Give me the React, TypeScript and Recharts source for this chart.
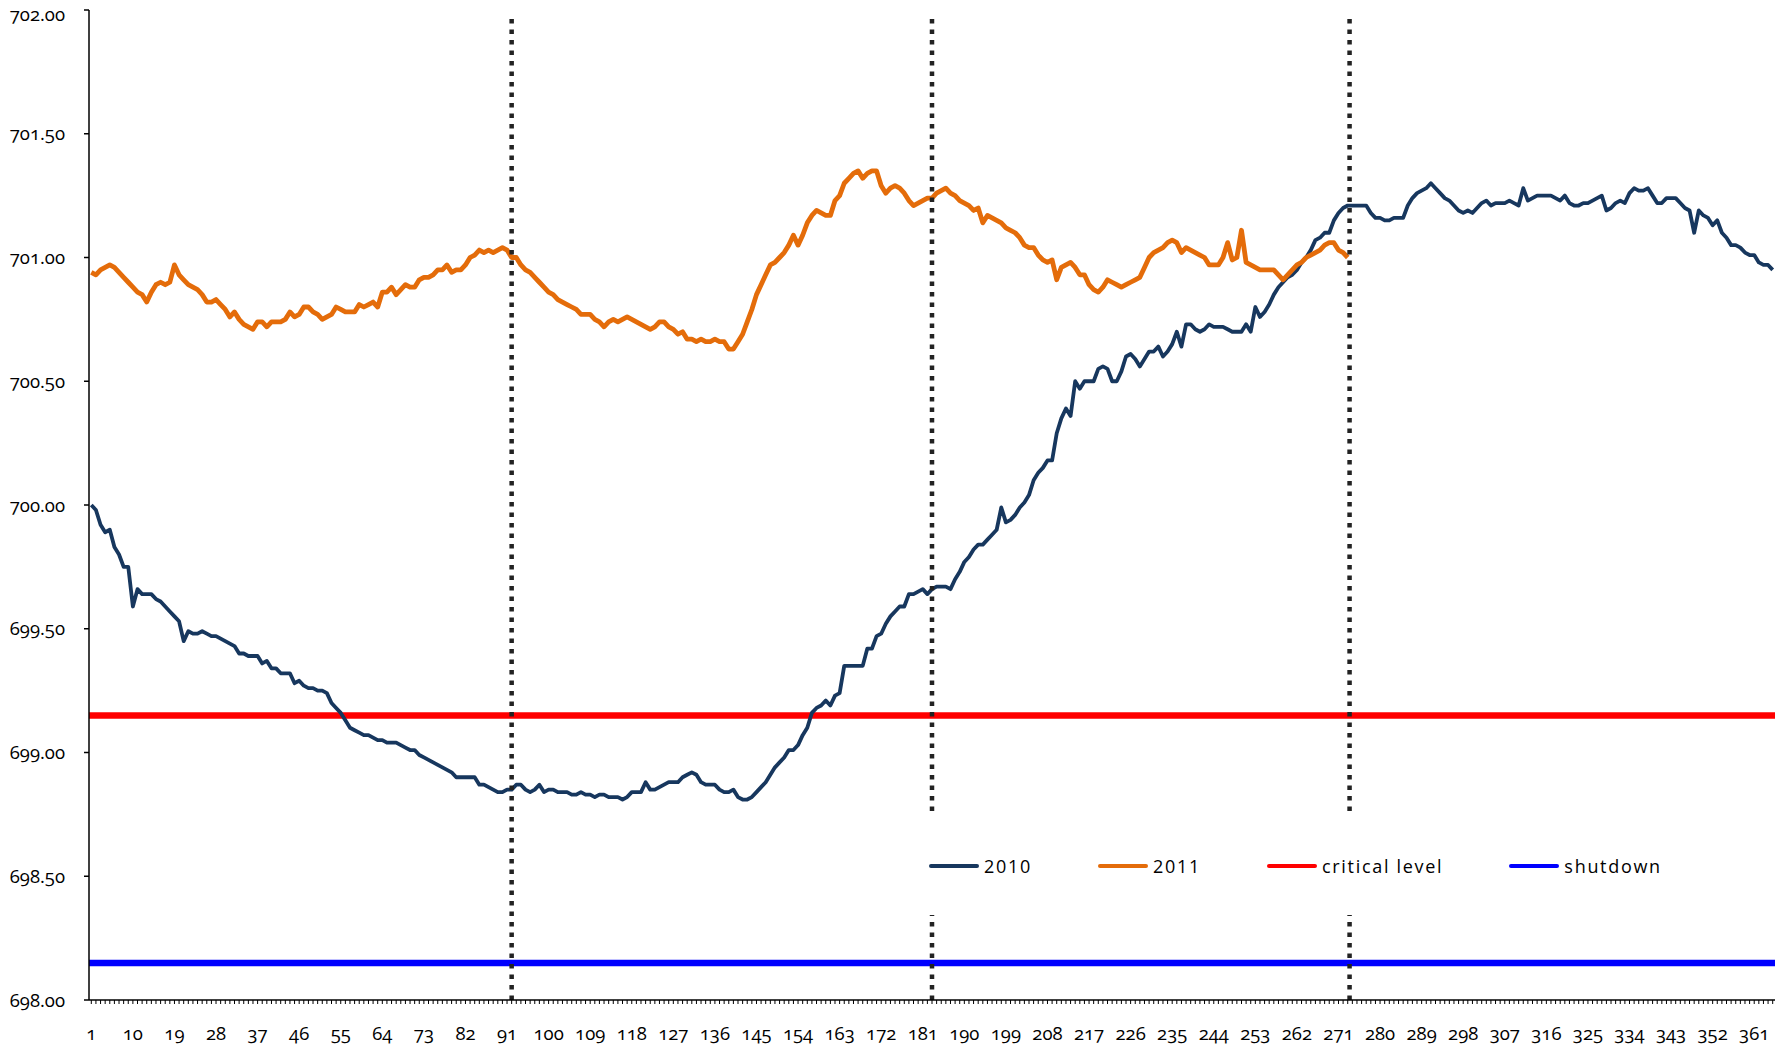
import React from 'react';
import { LineChart, Line, XAxis, YAxis, ReferenceLine } from 'recharts';

// Daily water level, 2010 (days 1..365)
const LEVELS_2010 = [
  700.00, 699.98, 699.92, 699.89, 699.90, 699.83, 699.80, 699.75, 699.75, 699.59,
  699.66, 699.64, 699.64, 699.64, 699.62, 699.61, 699.59, 699.57, 699.55, 699.53,
  699.45, 699.49, 699.48, 699.48, 699.49, 699.48, 699.47, 699.47, 699.46, 699.45,
  699.44, 699.43, 699.40, 699.40, 699.39, 699.39, 699.39, 699.36, 699.37, 699.34,
  699.34, 699.32, 699.32, 699.32, 699.28, 699.29, 699.27, 699.26, 699.26, 699.25,
  699.25, 699.24, 699.20, 699.18, 699.16, 699.13, 699.10, 699.09, 699.08, 699.07,
  699.07, 699.06, 699.05, 699.05, 699.04, 699.04, 699.04, 699.03, 699.02, 699.01,
  699.01, 698.99, 698.98, 698.97, 698.96, 698.95, 698.94, 698.93, 698.92, 698.90,
  698.90, 698.90, 698.90, 698.90, 698.87, 698.87, 698.86, 698.85, 698.84, 698.84,
  698.85, 698.85, 698.87, 698.87, 698.85, 698.84, 698.85, 698.87, 698.84, 698.85,
  698.85, 698.84, 698.84, 698.84, 698.83, 698.83, 698.84, 698.83, 698.83, 698.82,
  698.83, 698.83, 698.82, 698.82, 698.82, 698.81, 698.82, 698.84, 698.84, 698.84,
  698.88, 698.85, 698.85, 698.86, 698.87, 698.88, 698.88, 698.88, 698.90, 698.91,
  698.92, 698.91, 698.88, 698.87, 698.87, 698.87, 698.85, 698.84, 698.84, 698.85,
  698.82, 698.81, 698.81, 698.82, 698.84, 698.86, 698.88, 698.91, 698.94, 698.96,
  698.98, 699.01, 699.01, 699.03, 699.07, 699.10, 699.16, 699.18, 699.19, 699.21,
  699.19, 699.23, 699.24, 699.35, 699.35, 699.35, 699.35, 699.35, 699.42, 699.42,
  699.47, 699.48, 699.52, 699.55, 699.57, 699.59, 699.59, 699.64, 699.64, 699.65,
  699.66, 699.64, 699.66, 699.67, 699.67, 699.67, 699.66, 699.70, 699.73, 699.77,
  699.79, 699.82, 699.84, 699.84, 699.86, 699.88, 699.90, 699.99, 699.93, 699.94,
  699.96, 699.99, 700.01, 700.04, 700.10, 700.13, 700.15, 700.18, 700.18, 700.29,
  700.35, 700.39, 700.36, 700.50, 700.47, 700.50, 700.50, 700.50, 700.55, 700.56,
  700.55, 700.50, 700.50, 700.54, 700.60, 700.61, 700.59, 700.56, 700.59, 700.62,
  700.62, 700.64, 700.60, 700.62, 700.65, 700.70, 700.64, 700.73, 700.73, 700.71,
  700.70, 700.71, 700.73, 700.72, 700.72, 700.72, 700.71, 700.70, 700.70, 700.70,
  700.73, 700.70, 700.80, 700.76, 700.78, 700.81, 700.85, 700.88, 700.90, 700.92,
  700.93, 700.95, 700.98, 701.00, 701.03, 701.07, 701.08, 701.10, 701.10, 701.15,
  701.18, 701.20, 701.21, 701.21, 701.21, 701.21, 701.21, 701.18, 701.16, 701.16,
  701.15, 701.15, 701.16, 701.16, 701.16, 701.21, 701.24, 701.26, 701.27, 701.28,
  701.30, 701.28, 701.26, 701.24, 701.23, 701.21, 701.19, 701.18, 701.19, 701.18,
  701.20, 701.22, 701.23, 701.21, 701.22, 701.22, 701.22, 701.23, 701.22, 701.21,
  701.28, 701.23, 701.24, 701.25, 701.25, 701.25, 701.25, 701.24, 701.23, 701.25,
  701.22, 701.21, 701.21, 701.22, 701.22, 701.23, 701.24, 701.25, 701.19, 701.20,
  701.22, 701.23, 701.22, 701.26, 701.28, 701.27, 701.27, 701.28, 701.25, 701.22,
  701.22, 701.24, 701.24, 701.24, 701.22, 701.20, 701.19, 701.10, 701.19, 701.17,
  701.16, 701.13, 701.15, 701.10, 701.08, 701.05, 701.05, 701.04, 701.02, 701.01,
  701.01, 700.98, 700.97, 700.97, 700.95,
];

// Daily water level, 2011 (days 1..273)
const LEVELS_2011 = [
  700.94, 700.93, 700.95, 700.96, 700.97, 700.96, 700.94, 700.92, 700.90, 700.88,
  700.86, 700.85, 700.82, 700.86, 700.89, 700.90, 700.89, 700.90, 700.97, 700.93,
  700.91, 700.89, 700.88, 700.87, 700.85, 700.82, 700.82, 700.83, 700.81, 700.79,
  700.76, 700.78, 700.75, 700.73, 700.72, 700.71, 700.74, 700.74, 700.72, 700.74,
  700.74, 700.74, 700.75, 700.78, 700.76, 700.77, 700.80, 700.80, 700.78, 700.77,
  700.75, 700.76, 700.77, 700.80, 700.79, 700.78, 700.78, 700.78, 700.81, 700.80,
  700.81, 700.82, 700.80, 700.86, 700.86, 700.88, 700.85, 700.87, 700.89, 700.88,
  700.88, 700.91, 700.92, 700.92, 700.93, 700.95, 700.95, 700.97, 700.94, 700.95,
  700.95, 700.97, 701.00, 701.01, 701.03, 701.02, 701.03, 701.02, 701.03, 701.04,
  701.03, 701.00, 701.00, 700.97, 700.95, 700.94, 700.92, 700.90, 700.88, 700.86,
  700.85, 700.83, 700.82, 700.81, 700.80, 700.79, 700.77, 700.77, 700.77, 700.75,
  700.74, 700.72, 700.74, 700.75, 700.74, 700.75, 700.76, 700.75, 700.74, 700.73,
  700.72, 700.71, 700.72, 700.74, 700.74, 700.72, 700.71, 700.69, 700.70, 700.67,
  700.67, 700.66, 700.67, 700.66, 700.66, 700.67, 700.66, 700.66, 700.63, 700.63,
  700.66, 700.69, 700.74, 700.79, 700.85, 700.89, 700.93, 700.97, 700.98, 701.00,
  701.02, 701.05, 701.09, 701.05, 701.09, 701.14, 701.17, 701.19, 701.18, 701.17,
  701.17, 701.23, 701.25, 701.30, 701.32, 701.34, 701.35, 701.32, 701.34, 701.35,
  701.35, 701.29, 701.26, 701.28, 701.29, 701.28, 701.26, 701.23, 701.21, 701.22,
  701.23, 701.24, 701.24, 701.26, 701.27, 701.28, 701.26, 701.25, 701.23, 701.22,
  701.21, 701.19, 701.20, 701.14, 701.17, 701.16, 701.15, 701.14, 701.12, 701.11,
  701.10, 701.08, 701.05, 701.04, 701.04, 701.01, 700.99, 700.98, 700.99, 700.91,
  700.96, 700.97, 700.98, 700.96, 700.93, 700.93, 700.89, 700.87, 700.86, 700.88,
  700.91, 700.90, 700.89, 700.88, 700.89, 700.90, 700.91, 700.92, 700.96, 701.00,
  701.02, 701.03, 701.04, 701.06, 701.07, 701.06, 701.02, 701.04, 701.03, 701.02,
  701.01, 701.00, 700.97, 700.97, 700.97, 701.00, 701.06, 700.99, 701.00, 701.11,
  700.98, 700.97, 700.96, 700.95, 700.95, 700.95, 700.95, 700.93, 700.91, 700.93,
  700.95, 700.97, 700.98, 701.00, 701.01, 701.02, 701.03, 701.05, 701.06, 701.06,
  701.03, 701.02, 701.00,
];

const CRITICAL_LEVEL = 699.15;
const SHUTDOWN_LEVEL = 698.15;
const QUARTER_MARKS = [92, 183, 273.4];
const Y_TICKS = [698, 698.5, 699, 699.5, 700, 700.5, 701, 701.5, 702];
const X_LABEL_DAYS = [1, 10, 19, 28, 37, 46, 55, 64, 73, 82, 91, 100, 109, 118, 127, 136, 145, 154, 163, 172, 181, 190, 199, 208, 217, 226, 235, 244, 253, 262, 271, 280, 289, 298, 307, 316, 325, 334, 343, 352, 361];
const SERIES_NAMES = ['2010', '2011', 'critical level', 'shutdown'];
const SERIES_COLORS = ['#17375E', '#E46C0A', '#FF0000', '#0000FF'];

const DAYS = LEVELS_2010.map((_, i) => i + 1);
const data = DAYS.map((day, i) => ({
  day,
  y2010: LEVELS_2010[i],
  y2011: i < LEVELS_2011.length ? LEVELS_2011[i] : null,
}));

const AXIS_FONT = '"Open Sans", "Noto Sans", sans-serif';
const NUM_STYLE: React.CSSProperties = { fontVariantNumeric: 'oldstyle-nums', fontFeatureSettings: '"onum" 1' };

const XTick = (props: any) => {
  const { x, y, payload } = props;
  const day = payload.value;
  return (
    <g>
      <line x1={x} x2={x} y1={y} y2={y + 4} stroke="#000" strokeWidth={1} />
      {X_LABEL_DAYS.includes(day) && (
        <text
          x={x}
          y={y + 40}
          textAnchor="middle"
          fontSize={18.5}
          fontFamily={AXIS_FONT}
          fill="#000"
          style={NUM_STYLE}
        >
          {day}
        </text>
      )}
    </g>
  );
};

const YTick = (props: any) => {
  const { x, y, payload } = props;
  // keep the topmost label's glyph box inside the frame
  const baseline = Math.max(y + 6.5, 20.5);
  return (
    <text
      x={x}
      y={baseline}
      textAnchor="end"
      fontSize={18.5}
      fontFamily={AXIS_FONT}
      fill="#000"
      style={NUM_STYLE}
    >
      {Number(payload.value).toFixed(2)}
    </text>
  );
};

export default function App() {
  return (
    <div style={{ position: 'absolute', left: 0, top: 0, width: 1775, height: 1045, background: '#fff' }}>
      <LineChart width={1775} height={1045} data={data} margin={{ top: 10, right: 0, bottom: 0, left: 0 }}>
        <XAxis
          dataKey="day"
          type="number"
          domain={[0.5, 365.5]}
          ticks={DAYS}
          interval={0}
          height={45}
          tickLine={false}
          tickSize={0}
          tickMargin={0}
          tick={<XTick />}
          axisLine={{ stroke: '#000', strokeWidth: 1.5 }}
          allowDataOverflow
        />
        <YAxis
          type="number"
          domain={[698, 702]}
          ticks={Y_TICKS}
          interval={0}
          width={89}
          tickSize={5}
          tickMargin={19}
          tickLine={{ stroke: '#000', strokeWidth: 1.5 }}
          tick={<YTick />}
          axisLine={{ stroke: '#000', strokeWidth: 1.5 }}
          allowDataOverflow
        />
        <ReferenceLine y={CRITICAL_LEVEL} stroke={SERIES_COLORS[2]} strokeWidth={6.5} />
        <ReferenceLine y={SHUTDOWN_LEVEL} stroke={SERIES_COLORS[3]} strokeWidth={6.5} />
        <Line
          type="linear"
          dataKey="y2010"
          name={SERIES_NAMES[0]}
          stroke={SERIES_COLORS[0]}
          strokeWidth={3.8}
          dot={false}
          strokeLinejoin="round"
          isAnimationActive={false}
        />
        <Line
          type="linear"
          dataKey="y2011"
          name={SERIES_NAMES[1]}
          stroke={SERIES_COLORS[1]}
          strokeWidth={4.8}
          dot={false}
          strokeLinejoin="round"
          isAnimationActive={false}
        />
        {QUARTER_MARKS.map((m) => (
          <ReferenceLine
            key={m}
            segment={[{ x: m, y: 698 }, { x: m, y: 701.98 }]}
            stroke="#222"
            strokeWidth={4.5}
            strokeDasharray="4.5 6"
          />
        ))}
      </LineChart>
      <div
        style={{
          position: 'absolute',
          left: 920,
          top: 817,
          width: 770,
          height: 98,
          background: '#fff',
          display: 'flex',
          alignItems: 'center',
          paddingLeft: 9,
          boxSizing: 'border-box',
          gap: 66,
          fontFamily: AXIS_FONT,
          fontSize: 18,
          letterSpacing: 1.7,
          color: '#000',
        }}
      >
        {SERIES_NAMES.map((name, i) => (
          <div key={name} style={{ display: 'flex', alignItems: 'center' }}>
            <div style={{ width: 50, height: 4, borderRadius: 2, background: SERIES_COLORS[i], marginRight: 5 }} />
            <span style={{ whiteSpace: 'nowrap' }}>{name}</span>
          </div>
        ))}
      </div>
    </div>
  );
}
